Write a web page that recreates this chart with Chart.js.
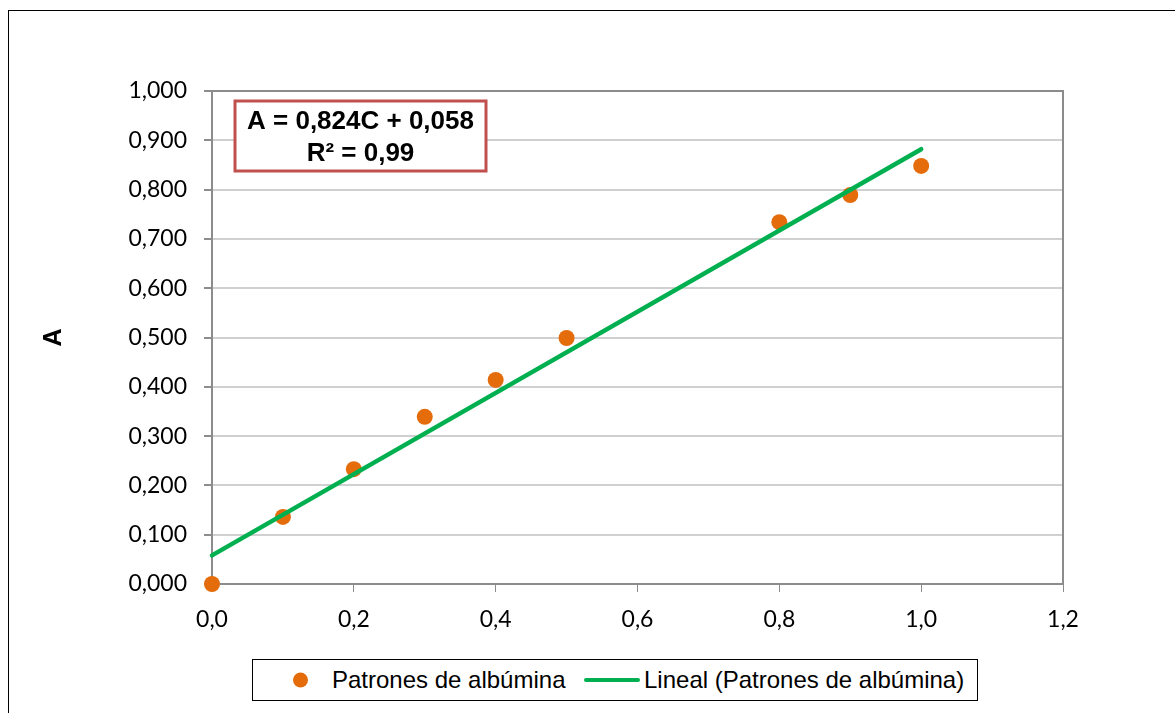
<!DOCTYPE html>
<html>
<head>
<meta charset="utf-8">
<script src="https://cdn.jsdelivr.net/npm/chart.js@4"></script>
<style>
  body { margin: 0; background: #fff; }
  #wrap { position: relative; width: 1175px; height: 713px; }
  #leyenda {
    position: absolute; left: 252px; top: 659px; width: 726px; height: 42px;
    border: 1px solid #000; box-sizing: border-box; background: #fff;
    font-family: "Liberation Sans", Arial, sans-serif; font-size: 24px; color: #000;
  }
  #leyenda span { position: absolute; top: 50%; transform: translateY(-50%); white-space: nowrap; }
</style>
</head>
<body>
<div id="wrap">
  <canvas id="grafico" width="1175" height="713"></canvas>
  <div id="leyenda"></div>
</div>
<script>
// datos de la curva de calibracion
const concentracion = [0.0, 0.1, 0.2, 0.3, 0.4, 0.5, 0.8, 0.9, 1.0];
const absorbancia = [0.000, 0.136, 0.233, 0.339, 0.414, 0.499, 0.734, 0.789, 0.848];
// linea de tendencia (A = 0,824C + 0,058)
const lineaX = [0.0, 1.0];
const lineaY = [0.058, 0.882];
const xTickLabels = ['0,0', '0,2', '0,4', '0,6', '0,8', '1,0', '1,2'];
const yTickLabels = ['0,000', '0,100', '0,200', '0,300', '0,400', '0,500', '0,600', '0,700', '0,800', '0,900', '1,000'];
const ecuacion = ['A = 0,824C + 0,058', 'R² = 0,99'];

const naranja = '#E46C0A';
const verde = '#00B050';
const gris = '#8c8c8c';

// borde exterior + borde del area de trazado + cuadro de la ecuacion
const extras = {
    id: 'extras',
    beforeDatasetsDraw(chart) {
        const {ctx, chartArea: a} = chart;
        ctx.save();
        ctx.strokeStyle = gris;
        ctx.lineWidth = 2;
        ctx.strokeRect(a.left, a.top, a.right - a.left, a.bottom - a.top);
        ctx.restore();
    },
    afterDraw(chart) {
        const {ctx, chartArea: a} = chart;
        ctx.save();
        ctx.strokeStyle = '#000';
        ctx.lineWidth = 1;
        ctx.strokeRect(8.5, 10.5, 1200, 800);

        // cuadro ecuacion
        const bx = a.left + 23, by = a.top + 10, bw = 251, bh = 70;
        ctx.fillStyle = '#fff';
        ctx.fillRect(bx, by, bw, bh);
        ctx.strokeStyle = '#C0504D';
        ctx.lineWidth = 3;
        ctx.strokeRect(bx, by, bw, bh);
        ctx.fillStyle = '#000';
        ctx.font = 'bold 26px "Liberation Sans", Arial, sans-serif';
        ctx.textAlign = 'center';
        ctx.textBaseline = 'middle';
        ctx.fillText(ecuacion[0], bx + bw / 2, by + 21);
        ctx.fillText(ecuacion[1], bx + bw / 2, by + 53);
        ctx.restore();
    }
};

const chart = new Chart(document.getElementById('grafico'), {
    type: 'scatter',
    data: {
        datasets: [{
            label: 'Patrones de albúmina',
            data: concentracion.map((x, i) => ({x: x, y: absorbancia[i]})),
            backgroundColor: naranja,
            borderColor: naranja,
            borderWidth: 0,
            pointRadius: 8,
            pointHoverRadius: 8,
            clip: false,
            order: 1
        }, {
            label: 'Lineal (Patrones de albúmina)',
            data: lineaX.map((x, i) => ({x: x, y: lineaY[i]})),
            showLine: true,
            borderColor: verde,
            backgroundColor: verde,
            borderWidth: 4.5,
            borderCapStyle: 'round',
            pointRadius: 0,
            clip: false,
            order: 0
        }]
    },
    options: {
        responsive: false,
        animation: false,
        layout: { padding: { top: 91, right: 112, bottom: 0, left: 0 } },
        plugins: {
            legend: { display: false },
            tooltip: { enabled: false }
        },
        scales: {
            x: {
                type: 'linear',
                min: 0,
                max: 1.2,
                afterFit(s) { s.height = 129; },
                afterBuildTicks(s) { s.ticks = xTickLabels.map((t, i) => ({value: i * 0.2})); },
                ticks: {
                    callback: (v, i) => xTickLabels[i],
                    color: '#000',
                    padding: 14,
                    maxRotation: 0,
                    font: { family: 'Lato', size: 23 }
                },
                grid: { drawOnChartArea: false, tickLength: 8, color: gris, lineWidth: 1 },
                border: { color: gris, width: 2 }
            },
            y: {
                min: 0,
                max: 1,
                afterFit(s) { s.width = 212; },
                afterBuildTicks(s) { s.ticks = yTickLabels.map((t, i) => ({value: i * 0.1})); },
                ticks: {
                    callback: (v, i) => yTickLabels[i],
                    color: '#000',
                    padding: 17,
                    font: { family: 'Lato', size: 23 }
                },
                grid: { color: '#d0d0d0', tickColor: gris, tickLength: 8, lineWidth: 2 },
                border: { color: gris, width: 2 },
                title: {
                    display: true,
                    text: 'A',
                    color: '#000',
                    font: { family: '"Liberation Sans", Arial, sans-serif', size: 25, weight: 'bold' },
                    padding: { top: 39, bottom: 0 }
                }
            }
        }
    },
    plugins: [extras]
});

// leyenda en html, a partir de los datasets
const leyenda = document.getElementById('leyenda');
const ds = chart.data.datasets;
leyenda.innerHTML =
    '<span style="left:40px;width:15px;height:15px;border-radius:50%;background:' + ds[0].backgroundColor + '"></span>' +
    '<span style="left:79px">' + ds[0].label + '</span>' +
    '<span style="left:331px;width:56px;height:4px;border-radius:2px;background:' + ds[1].borderColor + '"></span>' +
    '<span style="left:391px">' + ds[1].label + '</span>';
</script>
</body>
</html>
